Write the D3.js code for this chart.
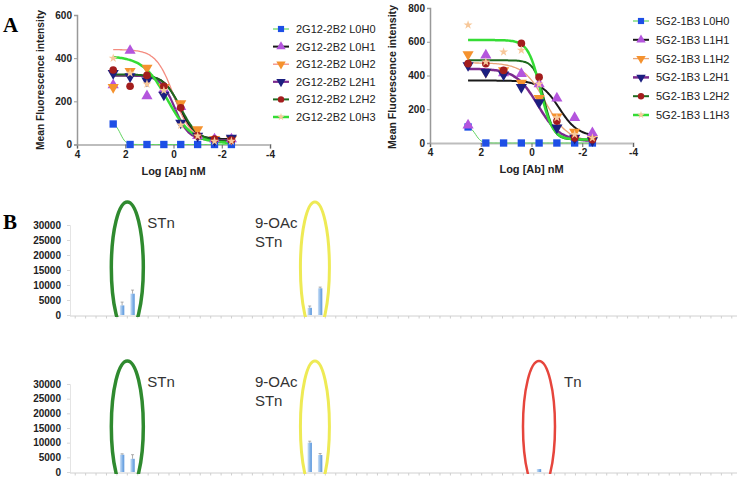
<!DOCTYPE html>
<html><head><meta charset="utf-8">
<script src="https://cdn.jsdelivr.net/npm/d3@7"></script>
<style>
body{margin:0;background:#fff}
svg{display:block}
text{font-family:Arial,"Liberation Sans",Helvetica,sans-serif}
</style>
</head><body>
<svg id="c" width="740" height="479"></svg>
<script>
// ---------------- DATA ----------------
const logDose = [2.5, 1.8, 1.1, 0.4, -0.3, -1.0, -1.7, -2.4];
const doseTicks = [4, 2, 0, -2, -4];

// Panel A left: 2G12-2B2
const leftNames = ["2G12-2B2 L0H0","2G12-2B2 L0H1","2G12-2B2 L0H2","2G12-2B2 L2H1","2G12-2B2 L2H2","2G12-2B2 L0H3"];
const left_L0H0 = [95, 0, 0, 0, 0, 0, 0, 0];
const left_L0H1 = [275, 435, 225, 255, 175, 40, 25, 25];
const left_L0H2 = [265, 340, 355, 265, 190, 70, 25, 25];
const left_L2H1 = [330, 315, 295, 230, 100, 40, 20, 30];
const left_L2H2 = [345, 270, 320, 270, 170, 40, 25, 20];
const left_L0H3 = [400, 330, 280, 250, 90, 40, 15, 15];
// fitted curve parameters [top, bottom, logEC50, hill]
const leftFits = [[100,0,2.2,4],[320,25,-0.25,1.4],[440,20,0.0,1.2],[320,20,-0.05,1.5],[325,15,-0.3,1.2],[410,5,0.25,0.85]];
const leftYTicks = [0, 200, 400, 600];

// Panel A right: 5G2-1B3
const rightNames = ["5G2-1B3 L0H0","5G2-1B3 L1H1","5G2-1B3 L1H2","5G2-1B3 L2H1","5G2-1B3 L2H2","5G2-1B3 L1H3"];
const right_L0H0 = [95, 0, 0, 0, 0, 0, 0, 0];
const right_L1H1 = [105, 520, 415, 410, 350, 265, 150, 60];
const right_L1H2 = [525, 420, 430, 355, 265, 155, 65, 20];
const right_L2H1 = [460, 420, 405, 330, 240, 90, 30, 15];
const right_L2H2 = [470, 470, 430, 590, 390, 130, 30, 20];
const right_L1H3 = [700, 480, 540, 550, 350, 150, 50, 30];
const rightFits = [[100,0,2.2,4],[370,40,-1.1,1.2],[475,10,-0.55,1.0],[440,10,-0.25,1.0],[490,20,-0.5,2.2],[610,20,-0.35,1.8]];
const rightYTicks = [0, 200, 400, 600, 800];

// Panel B: glycan array binding
const glycanCount = 64;
const glycanIdx   = [5, 6, 23, 24, 45];
const upperValues = [3200, 7100, 2400, 8900, 0];
const upperErrors = [1100, 1200, 600, 400, 0];
const lowerValues = [5900, 4500, 10000, 5800, 1000];
const lowerErrors = [300, 1400, 500, 500, 0];
const bTicks = [0, 5000, 10000, 15000, 20000, 25000, 30000];
const upperMarks = [{label:["STn"], at:5.5, key:"green"}, {label:["9-OAc","STn"], at:23.5, key:"yellow"}];
const lowerMarks = [{label:["STn"], at:5.5, key:"green"}, {label:["9-OAc","STn"], at:23.5, key:"yellow"}, {label:["Tn"], at:45, key:"red"}];

// ---------------- STYLES ----------------
const markerShapes = ["square","triUp","triDown","triDown","circle","star"];
const leftMarkerColors  = ["#1d4fe6","#b455dd","#f5922e","#1c1f80","#a31d1d","#f7c89a"];
const leftLineColors    = ["#5fd45f","#1a1a1a","#f48c80","#7b2a8e","#1e6a1e","#35dc35"];
const leftLineWidths    = [1, 2, 1.3, 2.2, 2, 2.5];
const rightMarkerColors = ["#1d4fe6","#b455dd","#f5922e","#1c1f80","#a31d1d","#f7c89a"];
const rightLineColors   = ["#5fd45f","#1a1a1a","#e9a476","#7b2a8e","#1e6a1e","#35dc35"];
const rightLineWidths   = [1, 2, 1.3, 2.5, 2, 2.5];
const ellipseColors = {green:"#2f8a2f", yellow:"#eeea55", red:"#e6453c"};

const svg = d3.select("#c");
const defs = svg.append("defs");

function sigmoid(p, x){ const [t,b,ec,h]=p; return b+(t-b)/(1+Math.pow(10,(ec-x)*h)); }

function symbolPath(shape, size){
  if(shape==="square") return d3.symbol(d3.symbolSquare, size)();
  if(shape==="circle") return d3.symbol(d3.symbolCircle, size*0.85)();
  if(shape==="star") return d3.symbol(d3.symbolStar, size*0.6)();
  return d3.symbol(d3.symbolTriangle, size)();
}

// Panel labels
svg.append("text").attr("x",3).attr("y",32).text("A")
  .style("font-family","'Liberation Serif','DejaVu Serif',serif").style("font-weight","bold").style("font-size","21px");
svg.append("text").attr("x",3).attr("y",229).text("B")
  .style("font-family","'Liberation Serif','DejaVu Serif',serif").style("font-weight","bold").style("font-size","21px");

function doseChart(cfg){
  const x = d3.scaleLinear().domain([4,-4]).range([cfg.x0,cfg.x1]);
  const y = d3.scaleLinear().domain([0,cfg.yMax]).range([cfg.yb,cfg.yt]);
  const g = svg.append("g");
  const xa = g.append("g").attr("transform",`translate(0,${cfg.yb})`)
    .call(d3.axisBottom(x).tickValues(doseTicks).tickSize(4).tickPadding(2).tickFormat(d=>String(d)));
  xa.select(".domain").attr("stroke","#bdbdbd").attr("stroke-width",2);
  xa.selectAll(".tick line").attr("stroke","#666");
  xa.selectAll("text").style("font-size","10px").style("font-weight","bold").attr("fill","#222");
  const ya = g.append("g").attr("transform",`translate(${cfg.x0},0)`)
    .call(d3.axisLeft(y).tickValues(cfg.yTicks).tickSize(3).tickPadding(2).tickFormat(d=>String(d)));
  ya.select(".domain").attr("stroke","#999").attr("stroke-width",1.5);
  ya.selectAll(".tick line").attr("stroke","#999");
  ya.selectAll("text").style("font-size","10px").style("font-weight","bold").attr("fill","#222");
  g.append("text").attr("x",(cfg.x0+cfg.x1)/2).attr("y",cfg.yb+30).attr("text-anchor","middle")
    .style("font-size","11px").style("font-weight","bold").attr("fill","#222").text("Log [Ab] nM");
  g.append("text").attr("transform",`translate(${cfg.ylabX},${cfg.ylabY}) rotate(-90)`).attr("text-anchor","middle")
    .style("font-size","11px").style("font-weight","bold").attr("fill","#222")
    .attr("textLength",cfg.ylabLen).attr("lengthAdjust","spacingAndGlyphs").text("Mean Fluorescence intensity");
  const line = d3.line().x(d=>x(d[0])).y(d=>y(d[1])).curve(d3.curveBasis);
  const xs = d3.range(2.5, -2.41, -0.05);
  cfg.fits.forEach((p,i)=>{
    g.append("path").attr("d", line(xs.map(v=>[v, sigmoid(p,v)])))
      .attr("fill","none").attr("stroke",cfg.lineColors[i]).attr("stroke-width",cfg.lineWidths[i]);
  });
  cfg.series.forEach((vals,i)=>{
    const shape = markerShapes[i];
    g.append("g").selectAll("path").data(vals).join("path")
      .attr("d", symbolPath(shape, shape==="star"?42:54))
      .attr("transform",(d,j)=>`translate(${x(logDose[j])},${y(d)})${shape==="triDown"?" rotate(180)":""}`)
      .attr("fill",cfg.markerColors[i]);
  });
  const lg = g.append("g");
  cfg.names.forEach((n,i)=>{
    const yy = cfg.legY0 + i*cfg.legStep;
    lg.append("line").attr("x1",cfg.legX-8).attr("x2",cfg.legX+8).attr("y1",yy).attr("y2",yy)
      .attr("stroke",cfg.lineColors[i]).attr("stroke-width",Math.max(1.2,cfg.lineWidths[i]));
    const shape = markerShapes[i];
    lg.append("path").attr("d",symbolPath(shape, shape==="star"?30:38))
      .attr("transform",`translate(${cfg.legX},${yy})${shape==="triDown"?" rotate(180)":""}`)
      .attr("fill",cfg.markerColors[i]);
    lg.append("text").attr("x",cfg.legX+15).attr("y",yy).attr("dy","0.36em")
      .style("font-size","11px").attr("fill","#222").text(n);
  });
}

doseChart({x0:77,x1:270,yb:144.5,yt:15,yMax:600,yTicks:leftYTicks,
  ylabX:44,ylabY:80,ylabLen:140,
  fits:leftFits,series:[left_L0H0,left_L0H1,left_L0H2,left_L2H1,left_L2H2,left_L0H3],
  names:leftNames,lineColors:leftLineColors,lineWidths:leftLineWidths,markerColors:leftMarkerColors,
  legX:281,legY0:29,legStep:17.6});

doseChart({x0:430,x1:633,yb:143,yt:8,yMax:800,yTicks:rightYTicks,
  ylabX:396,ylabY:77,ylabLen:144,
  fits:rightFits,series:[right_L0H0,right_L1H1,right_L1H2,right_L2H1,right_L2H2,right_L1H3],
  names:rightNames,lineColors:rightLineColors,lineWidths:rightLineWidths,markerColors:rightMarkerColors,
  legX:641,legY0:21,legStep:18.8});

// ---------------- Panel B ----------------
const grad = defs.append("linearGradient").attr("id","barGrad").attr("x1","0").attr("x2","1").attr("y1","0").attr("y2","0");
grad.append("stop").attr("offset","0%").attr("stop-color","#cfe2f7");
grad.append("stop").attr("offset","60%").attr("stop-color","#7fb0e6");
grad.append("stop").attr("offset","100%").attr("stop-color","#5d98dc");

const xB = d3.scaleLinear().domain([0,glycanCount]).range([70,737]);

function glycanChart(id, yb, yt, values, errors, marks){
  const y = d3.scaleLinear().domain([0,30000]).range([yb,yt]);
  const g = svg.append("g");
  const ya = g.append("g").attr("transform",`translate(70,0)`)
    .call(d3.axisLeft(y).tickValues(bTicks).tickSize(3).tickPadding(6).tickFormat(d=>String(d)));
  ya.select(".domain").attr("stroke","#e4e4e4");
  ya.selectAll(".tick line").attr("stroke","#d8d8d8");
  ya.selectAll("text").style("font-size","10px").style("font-weight","bold").attr("fill","#222");
  g.append("line").attr("x1",70).attr("x2",737).attr("y1",yb+1).attr("y2",yb+1).attr("stroke","#d0d0d0");
  g.append("g").selectAll("line").data(d3.range(glycanCount)).join("line")
    .attr("x1",d=>xB(d+0.5)).attr("x2",d=>xB(d+0.5)).attr("y1",yb+1).attr("y2",yb+3.5)
    .attr("stroke","#cfcfcf");
  g.append("g").selectAll("rect").data(values).join("rect")
    .attr("x",(d,i)=>xB(glycanIdx[i])-2.2).attr("width",4.4)
    .attr("y",d=>y(d)).attr("height",d=>yb-y(d)).attr("fill","url(#barGrad)");
  values.forEach((v,i)=>{
    if(!v || !errors[i]) return;
    const cx = xB(glycanIdx[i]);
    g.append("line").attr("x1",cx).attr("x2",cx).attr("y1",y(v)).attr("y2",y(v+errors[i])).attr("stroke","#999").attr("stroke-width",0.8);
    g.append("line").attr("x1",cx-1.5).attr("x2",cx+1.5).attr("y1",y(v+errors[i])).attr("y2",y(v+errors[i])).attr("stroke","#999").attr("stroke-width",0.8);
  });
  defs.append("clipPath").attr("id",id).append("rect").attr("x",0).attr("y",0).attr("width",740).attr("height",yb+2);
  const eg = g.append("g").attr("clip-path",`url(#${id})`);
  marks.forEach(m=>{
    const cx = xB(m.at);
    const rx = m.key==="yellow"?14.5:16;
    eg.append("ellipse").attr("cx",cx).attr("cy",yt+42.5).attr("rx",rx).attr("ry",65.5)
      .attr("fill","none").attr("stroke",ellipseColors[m.key])
      .attr("stroke-width",m.key==="green"?3.5:(m.key==="yellow"?3:2.5));
    const tx = m.label.length>1 ? cx-60 : cx+20;
    m.label.forEach((t,k)=>{
      g.append("text").attr("x", m.key==="red"? cx+25 : tx).attr("y",yt+3+k*19)
        .style("font-size","15px").attr("fill","#333").text(t);
    });
  });
}

glycanChart("clipU", 315, 225, upperValues, upperErrors, upperMarks);
glycanChart("clipL", 472, 384, lowerValues, lowerErrors, lowerMarks);
</script>
</body></html>
